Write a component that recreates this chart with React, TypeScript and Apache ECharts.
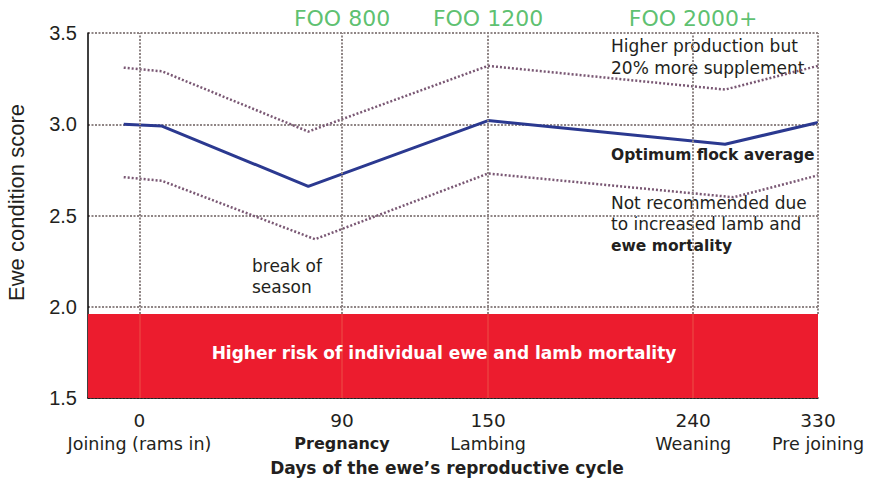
import React, { useEffect, useRef } from "react";
import * as echarts from "echarts";

// ---- data ----
const tickDays = [0, 90, 150, 240, 330];
const stageNames = ["Joining (rams in)", "Pregnancy", "Lambing", "Weaning", "Pre joining"];
const fooLabels = ["", "FOO 800", "FOO 1200", "FOO 2000+", ""];

const upperDays = [-7, 10, 75, 150, 263, 330];
const upperScores = [3.31, 3.29, 2.96, 3.32, 3.19, 3.32];
const optimumDays = [-7, 10, 75, 150, 263, 330];
const optimumScores = [3.0, 2.99, 2.66, 3.02, 2.89, 3.01];
const lowerDays = [-7, 10, 78, 150, 269, 330];
const lowerScores = [2.71, 2.69, 2.37, 2.73, 2.6, 2.72];

const riskBand = [1.5, 1.96];
const yTicks = [1.5, 2.0, 2.5, 3.0, 3.5];

// ---- axis scale (the figure's day axis is not linear) ----
const AXIS_BREAKS = [70.5, 348, 548, 829, 1000];
function dayToAxis(d: number): number {
  let i = 0;
  while (i < tickDays.length - 2 && d > tickDays[i + 1]) i++;
  const d0 = tickDays[i], d1 = tickDays[i + 1];
  const a0 = AXIS_BREAKS[i], a1 = AXIS_BREAKS[i + 1];
  return a0 + ((d - d0) / (d1 - d0)) * (a1 - a0);
}
function nearestTick(v: number): number {
  let best = 0;
  let bd = Infinity;
  tickDays.forEach((d, i) => {
    const dd = Math.abs(dayToAxis(d) - v);
    if (dd < bd) { bd = dd; best = i; }
  });
  return best;
}

const FONT = "DejaVu Sans";
const TEXT = "#231f20";
const GRID = "#8f8585";
const DOT = "#7a5874";

export default function App() {
  const ref = useRef<HTMLDivElement>(null);
  useEffect(() => {
    if (!ref.current) return;
    const chart = echarts.init(ref.current, undefined, { renderer: "svg" });
    const pts = (days: number[], vals: number[]) => days.map((d, i) => [dayToAxis(d), vals[i]]);
    const option: any = {
      animation: false,
      backgroundColor: "#ffffff",
      grid: { left: 88, right: 59, top: 33, bottom: 82, containLabel: false, outerBoundsMode: "none" },
      xAxis: {
        type: "value",
        min: 0,
        max: 1000,
        axisLine: { show: true, onZero: false, lineStyle: { color: "#000", width: 1.5 } },
        axisTick: { show: false },
        splitLine: { show: false },
        axisLabel: {
          customValues: tickDays.map(dayToAxis),
          margin: 11,
          formatter: (v: number) => {
            const i = nearestTick(v);
            const st = i === 1 ? "stageB" : "stage";
            return `{num|${tickDays[i]}}\n{${st}|${stageNames[i]}}`;
          },
          rich: {
            num: { fontFamily: FONT, fontSize: 18.5, color: TEXT, lineHeight: 23, align: "center" },
            stage: { fontFamily: FONT, fontSize: 17.5, color: TEXT, lineHeight: 23, align: "center" },
            stageB: { fontFamily: FONT, fontSize: 16, fontWeight: "bold", color: TEXT, lineHeight: 23, align: "center" },
          },
        },
        name: "Days of the ewe\u2019s reproductive cycle",
        nameLocation: "middle",
        nameGap: 61,
        nameTextStyle: { fontFamily: FONT, fontSize: 17, fontWeight: "bold", color: TEXT, padding: [0, 12, 0, 0] },
      },
      yAxis: {
        type: "value",
        min: 1.5,
        max: 3.5,
        interval: 0.5,
        axisLine: { show: true, lineStyle: { color: "#000", width: 1.5 } },
        axisTick: { show: false },
        splitLine: { show: true, lineStyle: { color: GRID, width: 2, type: [2, 1.5] } },
        axisLabel: {
          margin: 11,
          fontFamily: "Liberation Sans",
          fontSize: 20,
          color: TEXT,
          formatter: (v: number) => v.toFixed(1),
        },
        name: "Ewe condition score",
        nameLocation: "middle",
        nameGap: 61,
        nameRotate: 90,
        nameTextStyle: { fontFamily: "Liberation Sans", fontSize: 22, color: TEXT, padding: [0, 0, 0, 26] },
      },
      series: [
        {
          type: "line",
          name: "band",
          data: [],
          silent: true,
          z: 1,
          markArea: {
            silent: true,
            itemStyle: { color: "#ec1c2e" },
            label: {
              show: true,
              position: "inside",
              offset: [-9, -3],
              color: "#ffffff",
              fontFamily: FONT,
              fontWeight: "bold",
              fontSize: 17,
              formatter: "Higher risk of individual ewe and lamb mortality",
            },
            data: [[{ yAxis: riskBand[0] }, { yAxis: riskBand[1] }]],
          },
        },
        {
          type: "line",
          name: "vgrid",
          data: [],
          silent: true,
          z: 2,
          markLine: {
            silent: true,
            symbol: ["none", "none"],
            label: { show: false },
            lineStyle: { color: GRID, width: 2, type: [2, 1.5] },
            data: tickDays.map((d) => [
              { coord: [dayToAxis(d), riskBand[1]] },
              { coord: [dayToAxis(d), yTicks[yTicks.length - 1]] },
            ]),
          },
        },
        {
          type: "line",
          name: "vgridBand",
          data: [],
          silent: true,
          z: 2,
          markLine: {
            silent: true,
            symbol: ["none", "none"],
            label: { show: false },
            lineStyle: { color: "rgba(240,170,110,0.25)", width: 1.5, type: "solid" },
            data: tickDays.slice(0, -1).map((d) => [
              { coord: [dayToAxis(d), riskBand[0]] },
              { coord: [dayToAxis(d), riskBand[1]] },
            ]),
          },
        },
        {
          type: "line",
          name: "Higher production but 20% more supplement",
          data: pts(upperDays, upperScores),
          showSymbol: false,
          z: 3,
          lineStyle: { color: DOT, width: 2.5, type: [2, 2] },
        },
        {
          type: "line",
          name: "Optimum flock average",
          data: pts(optimumDays, optimumScores),
          showSymbol: false,
          z: 4,
          lineStyle: { color: "#2b3990", width: 3 },
        },
        {
          type: "line",
          name: "Not recommended",
          data: pts(lowerDays, lowerScores),
          showSymbol: false,
          z: 3,
          lineStyle: { color: DOT, width: 2.5, type: [2, 2] },
        },
        {
          type: "scatter",
          name: "FOO",
          symbolSize: 0,
          clip: false,
          silent: true,
          data: tickDays
            .map((d, i) => ({ value: [dayToAxis(d), yTicks[yTicks.length - 1]], foo: fooLabels[i] }))
            .filter((p) => p.foo),
          label: {
            show: true,
            position: "top",
            distance: 4,
            color: "#33b04a",
            fontFamily: FONT,
            fontSize: 22,
            formatter: (p: any) => p.data.foo,
          },
        },
      ],
      graphic: [
        { type: "text", left: 611, top: 35, style: { text: "Higher production but\n20% more supplement", fontFamily: FONT, fontSize: 17, lineHeight: 22, fill: TEXT } },
        { type: "text", left: 611, top: 147, style: { text: "Optimum flock average", fontFamily: FONT, fontSize: 15.5, fontWeight: "bold", fill: TEXT } },
        {
          type: "text", left: 611, top: 194,
          style: {
            text: "{n|Not recommended due}\n{n|to increased lamb and}\n{b|ewe mortality}",
            rich: {
              n: { fontFamily: FONT, fontSize: 17, lineHeight: 21.5, fill: TEXT },
              b: { fontFamily: FONT, fontSize: 15.5, fontWeight: "bold", lineHeight: 21.5, fill: TEXT },
            },
          },
        },
        { type: "text", left: 252, top: 255, style: { text: "break of\nseason", fontFamily: FONT, fontSize: 17, lineHeight: 21, fill: TEXT } },
      ],
    };
    chart.setOption(option);
    return () => chart.dispose();
  }, []);
  return <div ref={ref} style={{ width: 877, height: 480, position: "absolute", left: 0, top: 0 }} />;
}
